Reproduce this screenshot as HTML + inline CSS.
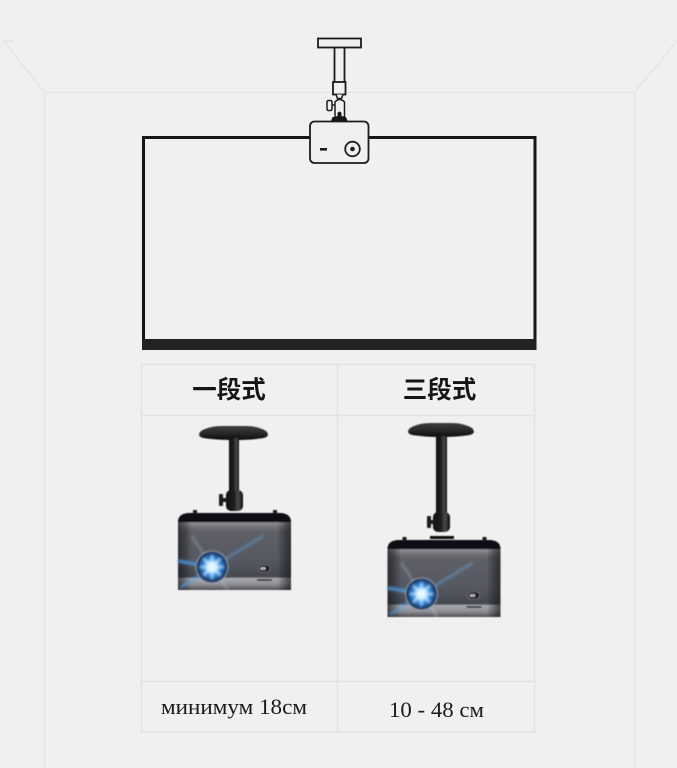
<!DOCTYPE html>
<html><head><meta charset="utf-8"><style>
html,body{margin:0;padding:0;background:#f0f0f0}
svg{display:block}
</style></head><body>
<svg xmlns="http://www.w3.org/2000/svg" width="677" height="768" viewBox="0 0 677 768">
<defs>
<linearGradient id="body" x1="0" y1="0" x2="0" y2="1">
<stop offset="0" stop-color="#3c3e46"/><stop offset=".1" stop-color="#3c3e46"/><stop offset=".13" stop-color="#8a8c91"/><stop offset=".24" stop-color="#64666d"/><stop offset=".6" stop-color="#5a5d66"/><stop offset=".83" stop-color="#474a54"/><stop offset=".85" stop-color="#a8aaaf"/><stop offset=".93" stop-color="#8c8e93"/><stop offset="1" stop-color="#505156"/>
</linearGradient>
<linearGradient id="side" x1="0" y1="0" x2="1" y2="0">
<stop offset="0" stop-color="#1c1c20" stop-opacity=".7"/><stop offset=".12" stop-color="#000" stop-opacity="0"/><stop offset=".88" stop-color="#000" stop-opacity="0"/><stop offset="1" stop-color="#1c1c20" stop-opacity=".7"/>
</linearGradient>
<pattern id="mesh" width="2" height="2" patternUnits="userSpaceOnUse"><rect width="1" height="1" fill="#2a2c33" opacity=".4"/></pattern>
<linearGradient id="pole" x1="0" y1="0" x2="1" y2="0">
<stop offset="0" stop-color="#0e0e0e"/><stop offset=".45" stop-color="#1e1e20"/><stop offset=".72" stop-color="#4a4a4c"/><stop offset="1" stop-color="#0e0e0e"/>
</linearGradient>
<linearGradient id="plate" x1="0" y1="0" x2="0" y2="1">
<stop offset="0" stop-color="#3e3e40"/><stop offset=".5" stop-color="#2a2a2c"/><stop offset="1" stop-color="#0a0a0c"/>
</linearGradient>
<radialGradient id="lens">
<stop offset="0" stop-color="#fff"/><stop offset=".25" stop-color="#c8eaff"/><stop offset=".5" stop-color="#3a97ea"/><stop offset=".82" stop-color="#173f78"/><stop offset=".92" stop-color="#2b3d58"/><stop offset="1" stop-color="#c8d0d8"/>
</radialGradient>
<filter id="b1" x="-30%" y="-30%" width="160%" height="160%"><feGaussianBlur stdDeviation=".5"/></filter>
<filter id="b2" x="-50%" y="-50%" width="200%" height="200%"><feGaussianBlur stdDeviation="1.200"/></filter>
<g id="proj">
<path d="M178 524q0-11 12-11h89q12 0 12 11v66H178z" fill="url(#body)"/>
<rect x="178" y="525" width="113" height="53" fill="url(#mesh)"/>
<path d="M178 524q0-11 12-11h89q12 0 12 11v66H178z" fill="url(#side)"/>
<path d="M178 522q0-9 12-9h89q12 0 12 9z" fill="#111114"/>
<rect x="193" y="510" width="4" height="4" fill="#1a1a1c"/><rect x="273" y="510" width="4" height="4" fill="#1a1a1c"/>
<g filter="url(#b2)" fill="none">
<path d="M212 567L263 536" stroke="#6cb0f0" stroke-width="2.200" opacity=".5"/>
<path d="M212 567L192 536" stroke="#c8dcf0" stroke-width="1.200" opacity=".5"/>
<path d="M212 567L178 561" stroke="#4da4f5" stroke-width="3" opacity=".85"/>
<path d="M212 567L180 588" stroke="#4da4f5" stroke-width="2.500" opacity=".7"/>
<path d="M212 567L228 590" stroke="#d8e4f0" stroke-width="1.200" opacity=".5"/>
</g>
<circle cx="212" cy="567" r="16.500" fill="url(#lens)" filter="url(#b1)"/>
<g stroke="#eaf6ff" stroke-width="1.600" filter="url(#b2)">
<path d="M212 555V579M200 567H224M203.500 558.500L220.500 575.500M220.500 558.500L203.500 575.500"/>
</g>
<rect x="258" y="565" width="12" height="7" rx="3.500" fill="#15171c" stroke="#888b90" stroke-width=".6"/>
<rect x="260" y="567" width="6" height="3" rx="1.500" fill="#a8aaae"/>
<rect x="257" y="579" width="15" height="2" fill="#2a2a30" opacity=".8"/>
</g>
</defs>
<rect width="677" height="768" fill="#f0f0f0"/>
<g fill="none" stroke="#e5e5e5" stroke-width="1.500">
<path d="M44.500 768V92.500H634.500V768"/>
<path d="M44.500 92.500L4 41H13"/>
<path d="M634.500 92.500L675 43"/>
<path d="M2 41V768" stroke="#ebebeb" stroke-width="1"/>
</g>
<rect x="143.500" y="137.500" width="391.500" height="205" fill="none" stroke="#161616" stroke-width="3"/>
<rect x="142" y="339" width="394.500" height="11" fill="#222"/>
<g fill="#f0f0f0" stroke="#1c1c1c">
<rect x="318" y="38.500" width="43" height="9" stroke-width="1.800"/>
<path d="M334.500 47.500V82M344.500 47.500V82" stroke-width="1.800"/>
<rect x="333" y="82" width="12.500" height="12.500" stroke-width="1.800"/>
<path d="M336 94.500l1.500 4h4l1.500-4" stroke-width="1.500"/>
<rect x="327" y="100.500" width="5" height="10" rx="1.500" stroke-width="1.500"/>
<path d="M332 105h3" stroke-width="1.500"/>
<path d="M335 117v-15q4.500-5 9.500 0v15z" stroke-width="1.500"/>
</g>
<path d="M331 121l1.500-4h5v-4q2-3 4 0v4h4.500l1.500 4z" fill="#161616"/>
<rect x="310" y="121.500" width="58.500" height="41.500" rx="4.500" fill="#f0f0f0" stroke="#1c1c1c" stroke-width="1.800"/>
<rect x="320" y="148" width="7" height="2.600" fill="#1c1c1c"/>
<circle cx="352.500" cy="149" r="7.300" fill="none" stroke="#1c1c1c" stroke-width="1.800"/>
<circle cx="352.500" cy="149" r="2.300" fill="#1c1c1c"/>
<g fill="none" stroke="#e2e2e2" stroke-width="1.600">
<rect x="141.500" y="364.500" width="393" height="367.500"/>
<path d="M337.500 364.500V732M141.500 415.500H534.500M141.500 681.500H534.500"/>
</g>
<g filter="url(#b1)">
<path d="M199 435q0-4 6-6q7-3 16-3h25q9 0 16 3q6 2 6 6q-1 3-8 3.500q-10 1.500-26 1.500q-16 0-27-1.500q-7-.5-8-3.500z" fill="url(#plate)"/>
<rect x="229" y="438" width="10" height="54" fill="url(#pole)"/>
<rect x="226" y="490" width="17" height="21" rx="5" fill="url(#pole)"/>
<rect x="219" y="494" width="4" height="12" rx="1" fill="#1a1a1a"/><rect x="222" y="498" width="5" height="4" fill="#1a1a1a"/>
<use href="#proj"/>
<path d="M408 432q0-4 6-6q7-3 16-3h22q9 0 16 3q6 2 6 6q-1 3-8 3.500q-10 1.500-25 1.500q-15 0-25-1.500q-7-.5-8-3.500z" fill="url(#plate)"/>
<rect x="436" y="436" width="11" height="77" fill="url(#pole)"/>
<rect x="433" y="512" width="17" height="20" rx="5" fill="url(#pole)"/>
<rect x="427" y="516" width="4" height="12" rx="1" fill="#1a1a1a"/><rect x="430" y="520" width="4" height="4" fill="#1a1a1a"/>
<rect x="430" y="536" width="24" height="3" fill="#111"/>
<use href="#proj" transform="translate(209.500 27)"/>
</g>
<g font-family="'Liberation Sans','Noto Sans CJK SC',sans-serif" font-size="24.500" font-weight="700" fill="#151515" text-anchor="middle">
<text x="229" y="398">一段式</text>
<text x="439.500" y="398">三段式</text>
</g>
<g font-family="'Liberation Serif',serif" fill="#1a1a1a">
<text x="161" y="714" font-size="22.500" textLength="146" lengthAdjust="spacingAndGlyphs">минимум 18см</text>
<text x="389" y="717" font-size="22.500" textLength="95" lengthAdjust="spacingAndGlyphs">10 - 48 см</text>
</g>
</svg>
</body></html>
